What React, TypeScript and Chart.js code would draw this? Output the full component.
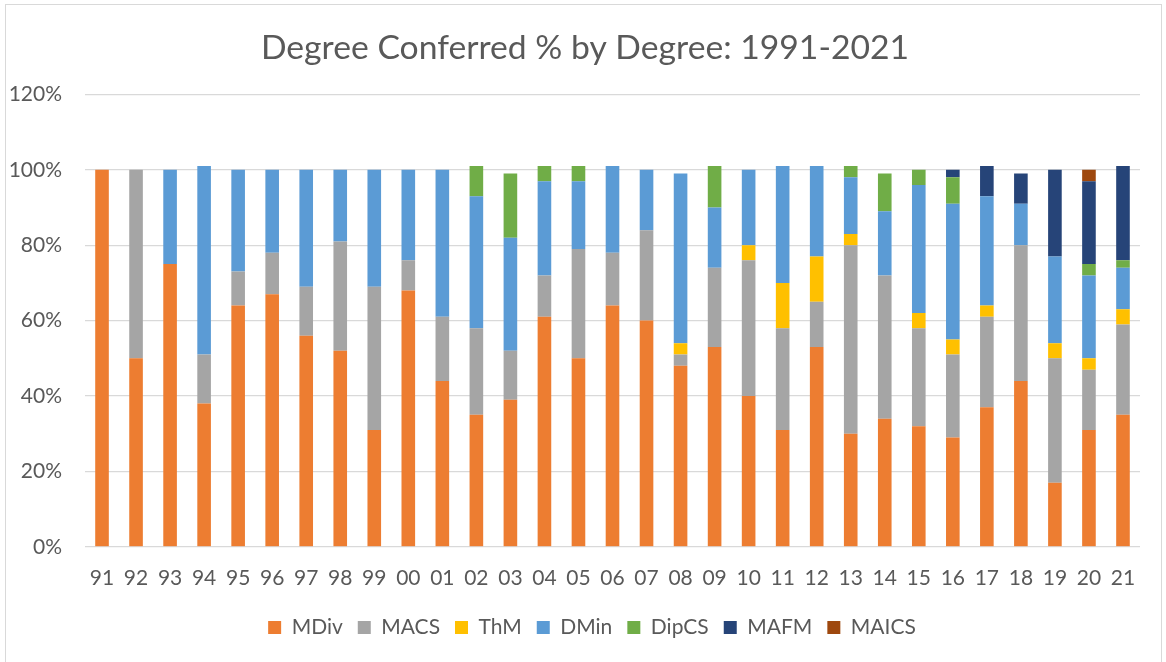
import React, { useEffect, useRef } from "react";
import { Chart, registerables } from "chart.js";

Chart.register(...registerables);

const years = ["91","92","93","94","95","96","97","98","99","00","01","02","03","04","05","06","07","08","09","10","11","12","13","14","15","16","17","18","19","20","21"];

const mdiv  = [100,50,75,38,64,67,56,52,31,68,44,35,39,61,50,64,60,48,53,40,31,53,30,34,32,29,37,44,17,31,35];
const macs  = [0,50,0,13,9,11,13,29,38,8,17,23,13,11,29,14,24,3,21,36,27,12,50,38,26,22,24,36,33,16,24];
const thm   = [0,0,0,0,0,0,0,0,0,0,0,0,0,0,0,0,0,3,0,4,12,12,3,0,4,4,3,0,4,3,4];
const dmin  = [0,0,25,50,27,22,31,19,31,24,39,35,30,25,18,23,16,45,16,20,31,24,15,17,34,36,29,11,23,22,11];
const dipcs = [0,0,0,0,0,0,0,0,0,0,0,8,17,4,4,0,0,0,11,0,0,0,3,10,4,7,0,0,0,3,2];
const mafm  = [0,0,0,0,0,0,0,0,0,0,0,0,0,0,0,0,0,0,0,0,0,0,0,0,0,2,8,8,23,22,25];
const maics = [0,0,0,0,0,0,0,0,0,0,0,0,0,0,0,0,0,0,0,0,0,0,0,0,0,0,0,0,0,3,0];

const yTicks = [0, 20, 40, 60, 80, 100, 120];

const FONT = "Lato, 'Open Sans', sans-serif";
const TEXT = "#595959";

const shiftPlugin = {
  id: "shiftBoxes",
  afterLayout(chart: any) {
    if (chart.legend) {
      chart.legend.left += 17;
      chart.legend.right += 17;
    }
    if (chart.titleBlock) {
      chart.titleBlock.left += 10;
      chart.titleBlock.right += 10;
    }
  },
};

export default function App() {
  const ref = useRef<HTMLCanvasElement | null>(null);

  useEffect(() => {
    if (!ref.current) return;
    const mk = (label: string, data: number[], color: string) => ({
      label,
      data,
      backgroundColor: color,
      borderWidth: 0,
      stack: "s",
    });
    const chart = new Chart(ref.current, {
      type: "bar",
      data: {
        labels: years,
        datasets: [
          mk("MDiv", mdiv, "#ED7D31"),
          mk("MACS", macs, "#A5A5A5"),
          mk("ThM", thm, "#FFC000"),
          mk("DMin", dmin, "#5B9BD5"),
          mk("DipCS", dipcs, "#70AD47"),
          mk("MAFM", mafm, "#264478"),
          mk("MAICS", maics, "#9E480E"),
        ],
      },
      plugins: [shiftPlugin],
      options: {
        animation: false,
        responsive: false,
        maintainAspectRatio: false,
        datasets: { bar: { categoryPercentage: 1, barPercentage: 0.4 } },
        layout: { padding: { left: 10, right: 26, top: 28, bottom: 14 } },
        plugins: {
          tooltip: { enabled: false },
          title: {
            display: true,
            text: "Degree Conferred % by Degree: 1991-2021",
            color: TEXT,
            font: { family: FONT, size: 33.7, weight: "normal" },
            padding: { top: 0, bottom: 26 },
          },
          legend: {
            position: "bottom",
            labels: {
              color: TEXT,
              font: { family: FONT, size: 21 },
              boxWidth: 13,
              boxHeight: 13,
              padding: 15,
            },
          },
        },
        scales: {
          x: {
            stacked: true,
            grid: { display: false },
            border: { display: false },
            ticks: { color: TEXT, font: { family: FONT, size: 21 }, padding: 11, maxRotation: 0, autoSkip: false },
          },
          y: {
            stacked: true,
            min: 0,
            max: 120,
            afterBuildTicks: (axis: any) => {
              axis.ticks = yTicks.map((v) => ({ value: v }));
            },
            afterFit: (axis: any) => {
              axis.width = 75;
            },
            grid: { color: "#d9d9d9", lineWidth: 1.3, drawTicks: false },
            border: { display: false },
            ticks: {
              color: TEXT,
              font: { family: FONT, size: 21 },
              padding: 23,
              callback: (v: any) => v + "%",
            },
          },
        },
      },
    });
    return () => chart.destroy();
  }, []);

  return (
    <div style={{ position: "fixed", left: 0, top: 0, width: 1166, height: 662, background: "#fff" }}>
      <canvas ref={ref} width={1166} height={662} style={{ position: "absolute", left: 0, top: 0 }} />
      <div
        style={{
          position: "absolute",
          left: 5,
          top: 4,
          width: 1157,
          height: 670,
          border: "1px solid #d9d9d9",
          boxSizing: "border-box",
          pointerEvents: "none",
        }}
      />
    </div>
  );
}
